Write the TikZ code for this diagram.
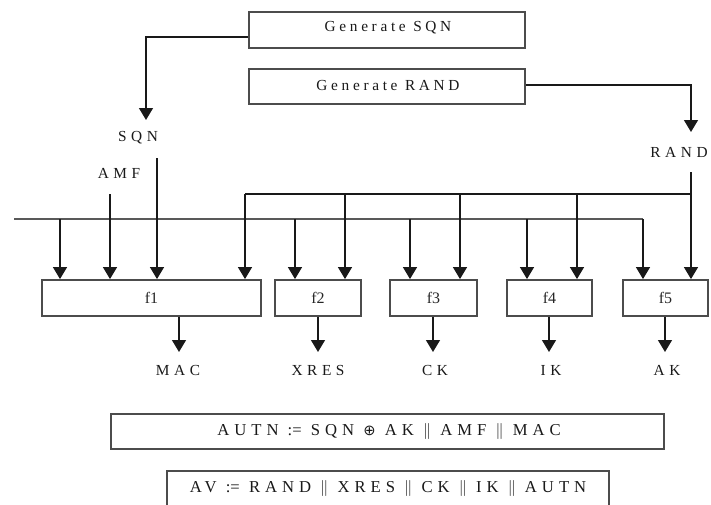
\documentclass[tikz,border=0pt]{standalone}
\usepackage{fontspec}
\setmainfont{Liberation Serif}
\newfontfamily\spacedfont[LetterSpace=30]{Liberation Serif}
\newfontfamily\titlefont[LetterSpace=24]{Liberation Serif}
\newfontfamily\formfont[LetterSpace=30]{Liberation Serif}
\newfontfamily\symbfont{DejaVu Sans}
\usetikzlibrary{arrows.meta,calc}
\newcommand\pxu[1]{#1*0.75pt}
\begin{document}
\begin{tikzpicture}[x=0.75pt,y=-0.75pt,
  box/.style={draw=black!70, line width=1.4pt, inner sep=0pt, minimum height=\pxu{36}},
  arr/.style={-{Triangle[length=9pt,width=10.5pt]}, line width=1.1pt, draw=black!90},
  ln/.style={line width=1.1pt, draw=black!90},
  bus/.style={line width=1.1pt, draw=black!65},
  lbl/.style={font=\spacedfont\fontsize{11.5}{13}\selectfont, text=black!90, inner sep=0pt},
  ttl/.style={font=\titlefont\fontsize{11.5}{13}\selectfont, text=black!90, inner sep=0pt},
  frm/.style={font=\formfont\fontsize{12.5}{14}\selectfont, text=black!90, inner sep=0pt},
  flbl/.style={font=\fontsize{12}{14}\selectfont, text=black!85}
]
\useasboundingbox[fill=white] (0,0) rectangle (711,504);

% generator boxes
\node[box, minimum width=\pxu{276}] (gsqn) at (387,30) {};
\node[ttl] at (388,27.5) {Generate SQN};
\node[box, minimum width=\pxu{276}, minimum height=\pxu{35}] (grand) at (387,86.5) {};
\node[ttl] at (388,85) {Generate RAND};

% function boxes
\node[box, minimum width=\pxu{219}] (f1) at (151.5,298) {};
\node[flbl] at (f1.center) {f1};
\node[box, minimum width=\pxu{86}] (f2) at (318,298) {};
\node[flbl] at (f2.center) {f2};
\node[box, minimum width=\pxu{87}] (f3) at (433.5,298) {};
\node[flbl] at (f3.center) {f3};
\node[box, minimum width=\pxu{85}] (f4) at (549.5,298) {};
\node[flbl] at (f4.center) {f4};
\node[box, minimum width=\pxu{85}] (f5) at (665.5,298) {};
\node[flbl] at (f5.center) {f5};

% result boxes
\node[box, minimum width=\pxu{553}, minimum height=\pxu{35}] (autn) at (387.5,431.5) {};
\node[frm] at (389,431) {AUTN {\rmfamily :=} SQN {\symbfont\fontsize{11}{13}\selectfont ⊕} AK $\|$ AMF $\|$ MAC};
\node[box, minimum width=\pxu{442}, minimum height=\pxu{38}] (av) at (388,490) {};
\node[frm] at (388,488) {AV {\rmfamily :=} RAND $\|$ XRES $\|$ CK $\|$ IK $\|$ AUTN};

% labels
\node[lbl] (sqn) at (138,138) {SQN};
\node[lbl] (amf) at (119,173) {AMF};
\node[lbl] (rand) at (679,152) {RAND};
\node[lbl] (mac) at (178,370) {MAC};
\node[lbl] (xres) at (318,370) {XRES};
\node[lbl] (ck) at (435,370) {CK};
\node[lbl] (ik) at (551,370) {IK};
\node[lbl] (ak) at (667,370) {AK};

% coordinates
\coordinate (sqntip) at (146,120);
\coordinate (randtip) at (691,132);
\coordinate (sqnin) at (157,158);
\coordinate (amfin) at (110,194);
\coordinate (randin) at (691,172);
\coordinate (busL) at (14,219);
\coordinate (busR) at (643,219);
\coordinate (ubusL) at (245,194);
\coordinate (ubusR) at (691,194);

% generator outputs
\draw[arr] ($(gsqn.west)+(0,7)$) -| (sqntip);
\draw[arr] ($(grand.east)+(0,-1.5)$) -| (randtip);

% buses
\draw[bus] (busL) -- (busR);
\draw[ln] (ubusL) -- (ubusR);

% inputs to f1
\draw[arr] (busL -| 60,0) -- (f1.north -| 60,0);
\draw[arr] (amfin) -- (amfin |- f1.north);
\draw[arr] (sqnin) -- (sqnin |- f1.north);
\draw[arr] (ubusL) -- (ubusL |- f1.north);
% f2
\draw[arr] (busL -| 295,0) -- (f2.north -| 295,0);
\draw[arr] (ubusL -| 345,0) -- (f2.north -| 345,0);
% f3
\draw[arr] (busL -| 410,0) -- (f3.north -| 410,0);
\draw[arr] (ubusL -| 460,0) -- (f3.north -| 460,0);
% f4
\draw[arr] (busL -| 527,0) -- (f4.north -| 527,0);
\draw[arr] (ubusL -| 577,0) -- (f4.north -| 577,0);
% f5
\draw[arr] (busR) -- (busR |- f5.north);
\draw[arr] (randin) -- (randin |- f5.north);

% outputs
\draw[arr] (f1.south -| 179,0) -- (179,352);
\draw[arr] (f2.south) -- (f2.south |- 0,352);
\draw[arr] (f3.south -| 433,0) -- (433,352);
\draw[arr] (f4.south -| 549,0) -- (549,352);
\draw[arr] (f5.south -| 665,0) -- (665,352);
\end{tikzpicture}
\end{document}
